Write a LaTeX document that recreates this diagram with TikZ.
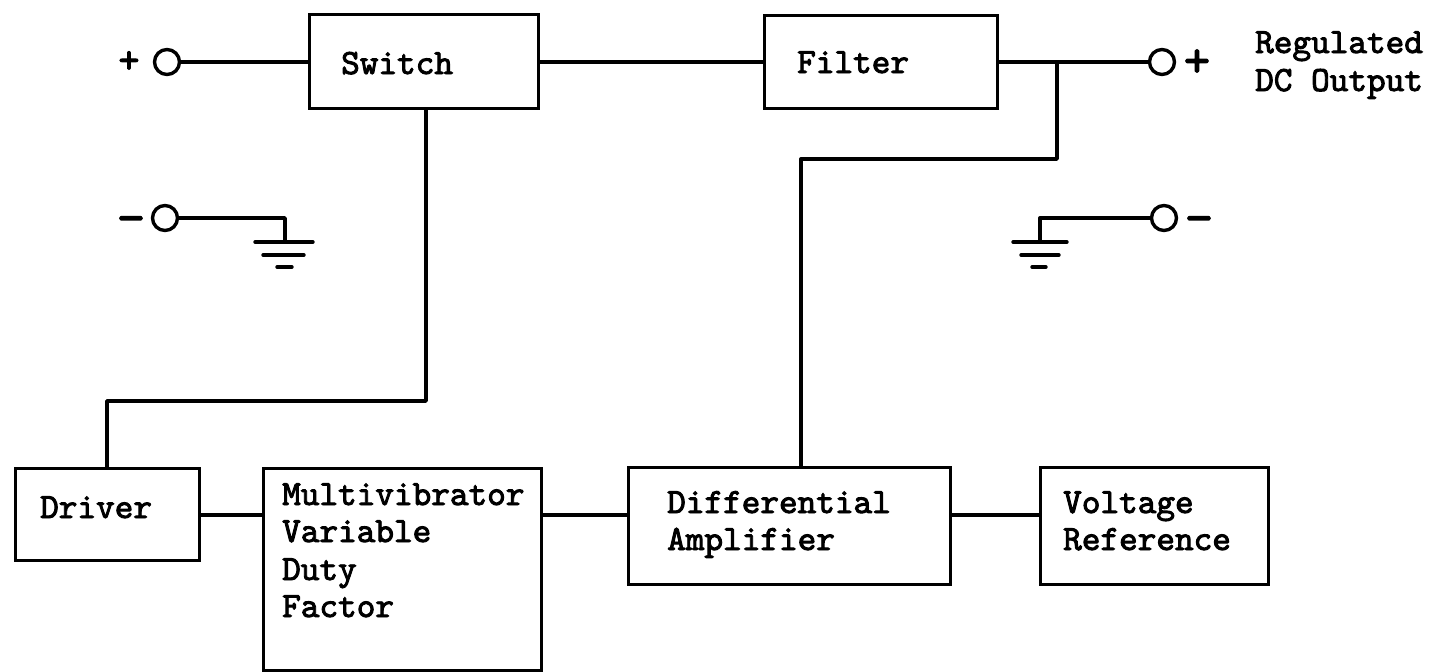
\documentclass[tikz,border=0pt]{standalone}
\usepackage{fontspec}
\newfontfamily\tw{lmmono10-regular.otf}[RawFeature={embolden=2.6}]
\tikzset{
  wire/.style={line width=3.4pt, line cap=round, line join=round},
  blk/.style={draw, line width=3.4pt, inner sep=0pt, anchor=north west},
  lbl/.style={anchor=base west, inner sep=0pt, font=\tw\fontsize{35.5}{37}\selectfont},
  sgn/.style={anchor=center, inner sep=0pt, font=\tw\fontsize{40}{42}\selectfont},
  bigsgn/.style={anchor=center, inner sep=0pt, font=\tw\fontsize{50}{52}\selectfont},
  pin/.style={circle, draw, line width=3.4pt, minimum size=25pt, inner sep=0pt},
}
\begin{document}
\begin{tikzpicture}[x=1pt,y=-1pt]
\useasboundingbox (0,0) rectangle (1436,672);
% boxes
\node[blk, minimum width=229pt, minimum height=94pt] (sw) at (308,13) {};
\node[blk, minimum width=233pt, minimum height=93pt] (fl) at (763,14) {};
\node[blk, minimum width=184pt, minimum height=92pt] (drv) at (14,467) {};
\node[blk, minimum width=278pt, minimum height=202pt] (mv) at (262,467) {};
\node[blk, minimum width=322pt, minimum height=117pt] (da) at (627,466) {};
\node[blk, minimum width=228pt, minimum height=117pt] (vr) at (1039,466) {};
% texts
\node[lbl] (tsw) at (341,74) {Switch};
\node[lbl] (tfl) at (797,73) {Filter};
\node[lbl] (tdrv) at (40,518) {Driver};
\node[lbl] (tmv1) at (282,505) {Multivibrator};
\node[lbl] (tmv2) at (282,542) {Variable};
\node[lbl] (tmv3) at (282,580) {Duty};
\node[lbl] (tmv4) at (282,617) {Factor};
\node[lbl] (tda1) at (667,513) {Differential};
\node[lbl] (tda2) at (667,550) {Amplifier};
\node[lbl] (tvr1) at (1063,513) {Voltage};
\node[lbl] (tvr2) at (1063,550) {Reference};
\node[lbl] (tout1) at (1255,53) {Regulated};
\node[lbl] (tout2) at (1255,91) {DC Output};
% terminals
\node[pin] (pinp) at (167,62) {};
\node[pin] (pinm) at (165,218) {};
\node[pin] (poutp) at (1162,62) {};
\node[pin] (poutm) at (1164,218) {};
\node[sgn] (sp1) at (129,62) {+};
\node[bigsgn] (sm1) at (131,225) {−};
\node[bigsgn] (sp2) at (1197,63) {+};
\node[bigsgn] (sm2) at (1199,225) {−};
% coordinates
\coordinate (j1) at (1057,62);
\coordinate (j3) at (801,159);
\coordinate (s1) at (426,401);
\coordinate (d1) at (107,401);
\coordinate (hl) at (0,515);
\coordinate (g1) at (285,242);
\coordinate (g2) at (1040,242);
% top row wiring
\draw[wire] (pinp.east) -- (pinp.east -| sw.west);
\draw[wire] (sw.east |- pinp) -- (fl.west |- pinp);
\draw[wire] (fl.east |- poutp) -- (poutp.west);
\draw[wire] (j1) |- (j3) -- (j3 |- da.north);
% switch to driver
\draw[wire] (s1 |- sw.south) -- (s1) -- (d1) -- (d1 |- drv.north);
% bottom row
\draw[wire] (drv.east |- hl) -- (mv.west |- hl);
\draw[wire] (mv.east |- hl) -- (da.west |- hl);
\draw[wire] (da.east |- hl) -- (vr.west |- hl);
% grounds
\draw[wire] (pinm.east) -- (g1 |- pinm) -- (g1);
\draw[wire] (255,242) -- (313,242);
\draw[wire] (263,255) -- (304,255);
\draw[wire] (277,267) -- (292,267);
\draw[wire] (poutm.west) -- (g2 |- poutm) -- (g2);
\draw[wire] (1013,242) -- (1067,242);
\draw[wire] (1021,255) -- (1059,255);
\draw[wire] (1032,267) -- (1046,267);
\end{tikzpicture}
\end{document}
